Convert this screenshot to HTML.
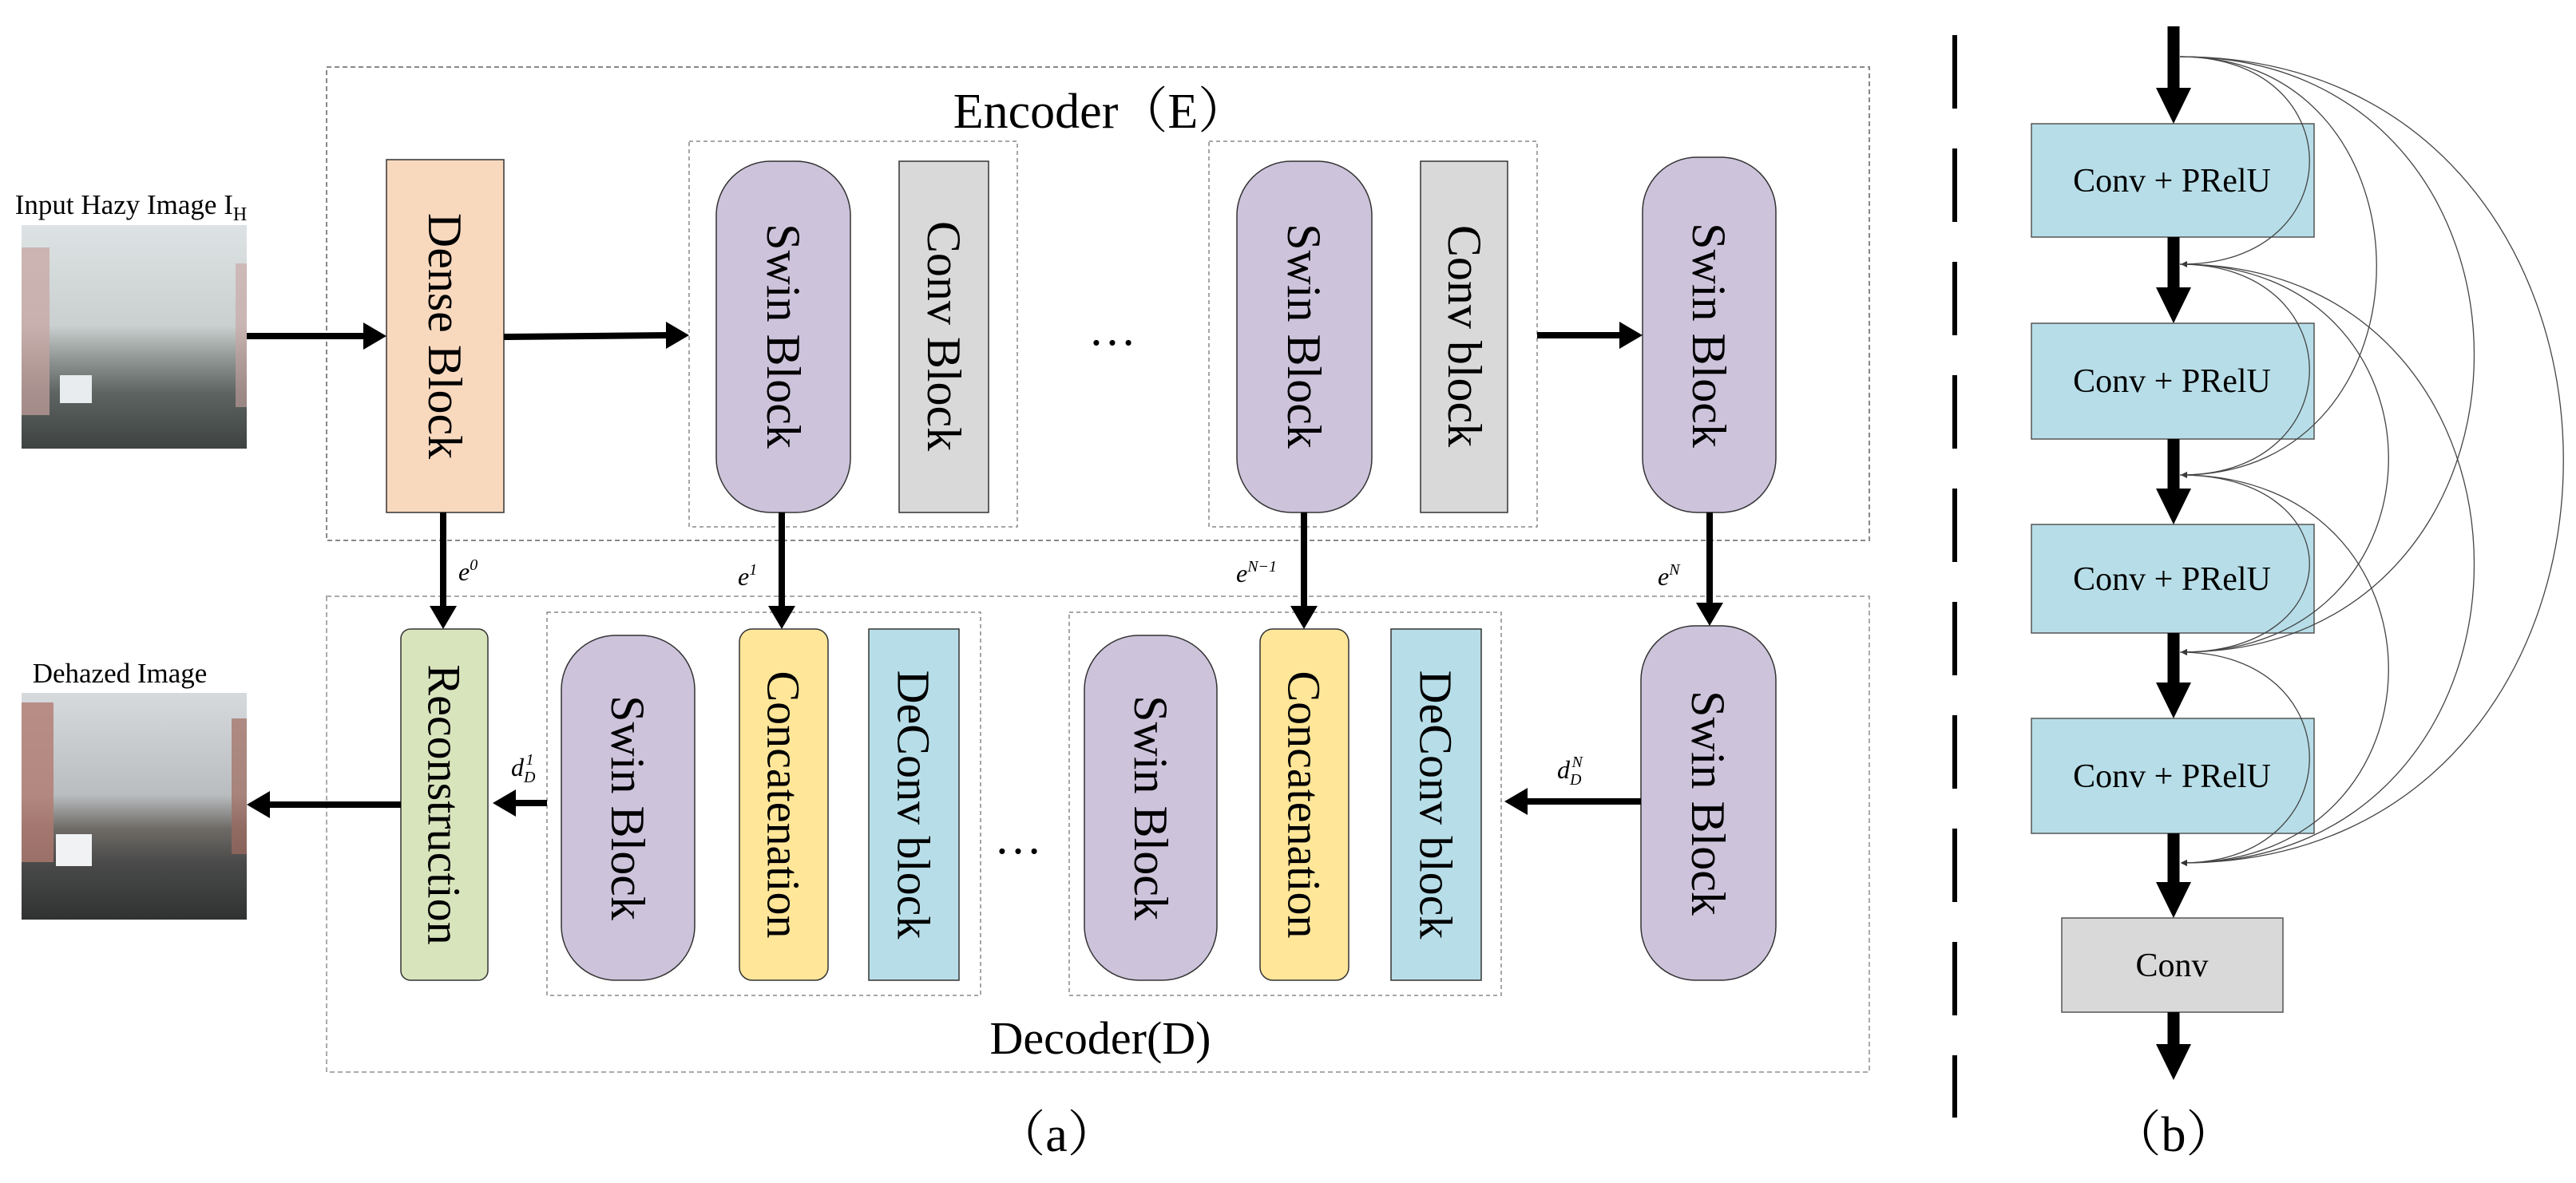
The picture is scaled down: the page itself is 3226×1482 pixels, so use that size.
<!DOCTYPE html>
<html><head><meta charset="utf-8"><style>
html,body{margin:0;padding:0;background:#fff;}
svg{display:block;}
text{font-family:"Liberation Serif","Noto Serif CJK SC",serif;fill:#000;}
</style></head><body>
<svg width="3226" height="1482" viewBox="0 0 3226 1482" xmlns="http://www.w3.org/2000/svg">
<defs>
<marker id="ah" markerWidth="8" markerHeight="8" refX="7" refY="4" orient="auto" markerUnits="userSpaceOnUse"><path d="M0,0 L8,4 L0,8 Z" fill="#333"/></marker>
<linearGradient id="img1" x1="0" y1="0" x2="0" y2="1">
<stop offset="0" stop-color="#dde3e4"/><stop offset="0.45" stop-color="#c9d0cf"/><stop offset="0.6" stop-color="#8f9693"/><stop offset="0.75" stop-color="#5e6462"/><stop offset="1" stop-color="#3e4341"/></linearGradient>
<linearGradient id="img2" x1="0" y1="0" x2="0" y2="1">
<stop offset="0" stop-color="#d6dadd"/><stop offset="0.45" stop-color="#b9bdbf"/><stop offset="0.6" stop-color="#6e6a66"/><stop offset="0.75" stop-color="#4a4a4a"/><stop offset="1" stop-color="#303232"/></linearGradient>
</defs>

<!-- images -->
<text x="164" y="268" font-size="35" text-anchor="middle">Input Hazy Image I<tspan font-size="24" dy="8">H</tspan></text>
<rect x="27" y="282" width="282" height="280" fill="url(#img1)"/>
<rect x="27" y="310" width="35" height="210" fill="#c8a3a0" opacity="0.7"/>
<rect x="295" y="330" width="14" height="180" fill="#c8a3a0" opacity="0.6"/>
<rect x="75" y="470" width="40" height="35" fill="#e8ecee"/>
<text x="150" y="855" font-size="35" text-anchor="middle">Dehazed Image</text>
<rect x="27" y="868" width="282" height="284" fill="url(#img2)"/>
<rect x="27" y="880" width="40" height="200" fill="#b07a70" opacity="0.8"/>
<rect x="290" y="900" width="19" height="170" fill="#a06b60" opacity="0.7"/>
<rect x="70" y="1045" width="45" height="40" fill="#f0f2f3"/>

<!-- encoder -->
<rect x="409" y="84" width="1932" height="593" fill="none" stroke="#888" stroke-width="2" stroke-dasharray="6,4"/>
<text x="1378" y="160" font-size="62" text-anchor="middle">Encoder（E）</text>
<rect x="863" y="177" width="411" height="483" fill="none" stroke="#888" stroke-width="1.5" stroke-dasharray="5,4"/>
<rect x="1514" y="177" width="411" height="483" fill="none" stroke="#888" stroke-width="1.5" stroke-dasharray="5,4"/>

<rect x="484" y="200" width="147" height="442" fill="#F9D9BE" stroke="#333" stroke-width="1.5"/>
<text transform="translate(557,421) rotate(90)" font-size="60" text-anchor="middle" dominant-baseline="central">Dense Block</text>
<rect x="897" y="202" width="168" height="440" rx="68" fill="#CDC3DB" stroke="#333" stroke-width="1.5"/>
<text transform="translate(981,421) rotate(90)" font-size="60" text-anchor="middle" dominant-baseline="central">Swin Block</text>
<rect x="1126" y="202" width="112" height="440" fill="#D9D9D9" stroke="#333" stroke-width="1.5"/>
<text transform="translate(1182,421) rotate(90)" font-size="60" text-anchor="middle" dominant-baseline="central">Conv Block</text>
<text x="1393" y="432" font-size="60" text-anchor="middle">…</text>
<rect x="1549" y="202" width="169" height="440" rx="68" fill="#CDC3DB" stroke="#333" stroke-width="1.5"/>
<text transform="translate(1633,421) rotate(90)" font-size="60" text-anchor="middle" dominant-baseline="central">Swin Block</text>
<rect x="1779" y="202" width="109" height="440" fill="#D9D9D9" stroke="#333" stroke-width="1.5"/>
<text transform="translate(1834,421) rotate(90)" font-size="60" text-anchor="middle" dominant-baseline="central">Conv block</text>
<rect x="2057" y="197" width="167" height="445" rx="68" fill="#CDC3DB" stroke="#333" stroke-width="1.5"/>
<text transform="translate(2140,420) rotate(90)" font-size="60" text-anchor="middle" dominant-baseline="central">Swin Block</text>

<!-- decoder -->
<rect x="409" y="747" width="1932" height="596" fill="none" stroke="#aaa" stroke-width="2" stroke-dasharray="6,4"/>
<text x="1378" y="1320" font-size="58" text-anchor="middle">Decoder(D)</text>
<rect x="685" y="767" width="543" height="480" fill="none" stroke="#888" stroke-width="1.5" stroke-dasharray="5,4"/>
<rect x="1339" y="767" width="541" height="480" fill="none" stroke="#888" stroke-width="1.5" stroke-dasharray="5,4"/>

<rect x="502" y="788" width="109" height="440" rx="12" fill="#D8E4BC" stroke="#333" stroke-width="1.5"/>
<text transform="translate(556,1008) rotate(90)" font-size="58" text-anchor="middle" dominant-baseline="central">Reconstruction</text>
<rect x="703" y="796" width="167" height="432" rx="68" fill="#CDC3DB" stroke="#333" stroke-width="1.5"/>
<text transform="translate(786,1012) rotate(90)" font-size="60" text-anchor="middle" dominant-baseline="central">Swin Block</text>
<rect x="926" y="788" width="111" height="440" rx="16" fill="#FFE699" stroke="#333" stroke-width="1.5"/>
<text transform="translate(981,1008) rotate(90)" font-size="58" text-anchor="middle" dominant-baseline="central">Concatenation</text>
<rect x="1088" y="788" width="113" height="440" fill="#B7DEE8" stroke="#333" stroke-width="1.5"/>
<text transform="translate(1144,1008) rotate(90)" font-size="58" text-anchor="middle" dominant-baseline="central">DeConv block</text>
<text x="1275" y="1069" font-size="60" text-anchor="middle">…</text>
<rect x="1358" y="796" width="166" height="432" rx="68" fill="#CDC3DB" stroke="#333" stroke-width="1.5"/>
<text transform="translate(1441,1012) rotate(90)" font-size="60" text-anchor="middle" dominant-baseline="central">Swin Block</text>
<rect x="1578" y="788" width="111" height="440" rx="16" fill="#FFE699" stroke="#333" stroke-width="1.5"/>
<text transform="translate(1633,1008) rotate(90)" font-size="58" text-anchor="middle" dominant-baseline="central">Concatenation</text>
<rect x="1742" y="788" width="113" height="440" fill="#B7DEE8" stroke="#333" stroke-width="1.5"/>
<text transform="translate(1798,1008) rotate(90)" font-size="58" text-anchor="middle" dominant-baseline="central">DeConv block</text>
<rect x="2055" y="784" width="169" height="444" rx="68" fill="#CDC3DB" stroke="#333" stroke-width="1.5"/>
<text transform="translate(2139,1006) rotate(90)" font-size="60" text-anchor="middle" dominant-baseline="central">Swin Block</text>

<!-- arrows -->
<g stroke="#000" stroke-width="8" fill="none">
<line x1="309" y1="421" x2="455" y2="421"/>
<line x1="631" y1="422" x2="835" y2="420"/>
<line x1="1925" y1="420" x2="2030" y2="420"/>
<line x1="555" y1="642" x2="555" y2="760"/>
<line x1="979" y1="642" x2="979" y2="760"/>
<line x1="1633" y1="642" x2="1633" y2="760"/>
<line x1="2141" y1="642" x2="2141" y2="756"/>
<line x1="2055" y1="1004" x2="1912" y2="1004"/>
<line x1="685" y1="1006" x2="645" y2="1006"/>
<line x1="502" y1="1008" x2="336" y2="1008"/>
</g>
<g fill="#000">
<polygon points="484,421 455,404 455,438"/>
<polygon points="863,420 834,403 834,437"/>
<polygon points="2057,420 2028,403 2028,437"/>
<polygon points="555,788 538,759 572,759"/>
<polygon points="979,788 962,759 996,759"/>
<polygon points="1633,788 1616,759 1650,759"/>
<polygon points="2141,784 2124,755 2158,755"/>
<polygon points="1884,1004 1913,987 1913,1021"/>
<polygon points="617,1006 646,989 646,1023"/>
<polygon points="309,1008 338,991 338,1025"/>
</g>
<g font-style="italic" font-size="32">
<text x="574" y="727">e<tspan font-size="20" dy="-13">0</tspan></text>
<text x="924" y="733">e<tspan font-size="20" dy="-13">1</tspan></text>
<text x="1548" y="729">e<tspan font-size="20" dy="-13">N−1</tspan></text>
<text x="2076" y="733">e<tspan font-size="20" dy="-13">N</tspan></text>
<text x="640" y="972">d<tspan font-size="20" dy="8">D</tspan><tspan font-size="20" dx="-12" dy="-22">1</tspan></text>
<text x="1950" y="975">d<tspan font-size="20" dy="8">D</tspan><tspan font-size="20" dx="-12" dy="-22">N</tspan></text>
</g>
<text x="1323" y="1442" font-size="62" text-anchor="middle">（a）</text>

<!-- divider -->
<line x1="2448" y1="44" x2="2448" y2="1400" stroke="#000" stroke-width="6" stroke-dasharray="92,50"/>

<!-- panel b -->
<g fill="#B7DEE8" stroke="#555" stroke-width="1.5">
<rect x="2544" y="155" width="354" height="142"/>
<rect x="2544" y="405" width="354" height="145"/>
<rect x="2544" y="657" width="354" height="136"/>
<rect x="2544" y="900" width="354" height="144"/>
</g>
<rect x="2582" y="1150" width="277" height="118" fill="#D9D9D9" stroke="#555" stroke-width="1.5"/>
<g font-size="42" text-anchor="middle" dominant-baseline="central">
<text x="2720" y="227">Conv + PRelU</text>
<text x="2720" y="478">Conv + PRelU</text>
<text x="2720" y="726">Conv + PRelU</text>
<text x="2720" y="973">Conv + PRelU</text>
<text x="2720" y="1210">Conv</text>
</g>
<g stroke="#000" stroke-width="15">
<line x1="2722" y1="33" x2="2722" y2="132"/>
<line x1="2722" y1="297" x2="2722" y2="382"/>
<line x1="2722" y1="550" x2="2722" y2="634"/>
<line x1="2722" y1="793" x2="2722" y2="877"/>
<line x1="2722" y1="1044" x2="2722" y2="1127"/>
<line x1="2722" y1="1268" x2="2722" y2="1330"/>
</g>
<g fill="#000">
<polygon points="2722,155 2700,110 2744,110"/>
<polygon points="2722,405 2700,360 2744,360"/>
<polygon points="2722,657 2700,612 2744,612"/>
<polygon points="2722,900 2700,855 2744,855"/>
<polygon points="2722,1150 2700,1105 2744,1105"/>
<polygon points="2722,1353 2700,1308 2744,1308"/>
</g>
<g stroke="#444" stroke-width="1.3" fill="none" marker-end="url(#ah)">
<path d="M2730,71 C2946,71 2946,331 2732,331"/>
<path d="M2730,71 C3058,71 3058,595 2732,595"/>
<path d="M2730,71 C3221,71 3221,817 2732,817"/>
<path d="M2730,71 C3370,71 3370,1081 2732,1081"/>
<path d="M2730,331 C2946,331 2946,595 2732,595"/>
<path d="M2730,331 C3078,331 3078,817 2732,817"/>
<path d="M2730,331 C3221,331 3221,1081 2732,1081"/>
<path d="M2730,595 C2946,595 2946,817 2732,817"/>
<path d="M2730,595 C3078,595 3078,1081 2732,1081"/>
<path d="M2730,817 C2946,817 2946,1081 2732,1081"/>
</g>
<text x="2722" y="1442" font-size="62" text-anchor="middle">（b）</text>
</svg>
</body></html>
